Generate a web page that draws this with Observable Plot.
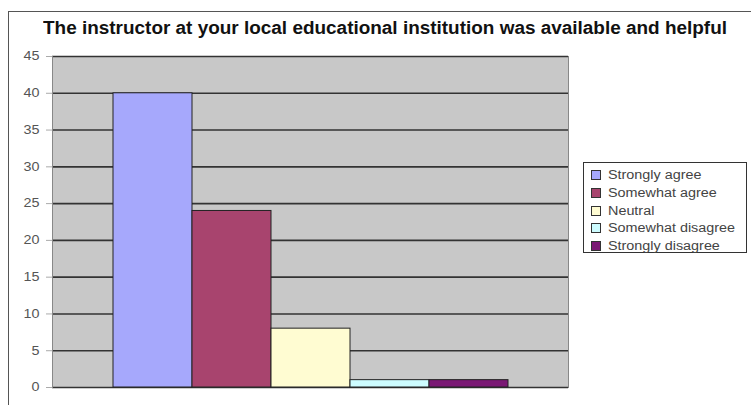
<!DOCTYPE html>
<html>
<head>
<meta charset="utf-8">
<script src="https://cdn.jsdelivr.net/npm/d3@7"></script>
<script src="https://cdn.jsdelivr.net/npm/@observablehq/plot@0.6"></script>
<style>
  html, body { margin: 0; padding: 0; background: #fff; }
  #wrap { position: relative; width: 751px; height: 405px; overflow: hidden; font-family: "Liberation Sans", Arial, sans-serif; }
  #border { position: absolute; left: 8px; top: 11px; width: 760px; height: 420px; border: 1px solid #555; box-sizing: border-box; }
  #title { position: absolute; left: 43px; top: 18px; white-space: nowrap; font-weight: bold; font-size: 17.5px; color: #111; transform-origin: 0 0; }
  #chart { position: absolute; left: 0; top: 0; }
  #legend { position: absolute; left: 583px; top: 162px; width: 164px; height: 91px; border: 1px solid #333; box-sizing: border-box; background: #fff; }
  .item { position: absolute; left: 7px; height: 18px; display: flex; align-items: center; }
  .sw { width: 10px; height: 10px; border: 1px solid #333; box-sizing: border-box; margin-right: 7px; flex: none; }
  .lab { font-size: 12.5px; color: #444; white-space: nowrap; display: inline-block; transform: scaleX(1.15); transform-origin: 0 50%; }
</style>
</head>
<body>
<div id="wrap">
  <div id="border"></div>
  <div id="title"></div>
  <div id="chart"></div>
  <div id="legend"></div>
</div>
<script>
const titleText = "The instructor at your local educational institution was available and helpful";
const categories = ["Strongly agree", "Somewhat agree", "Neutral", "Somewhat disagree", "Strongly disagree"];
const values = [40, 24, 8, 1, 1];
const colors = ["#a6a8fc", "#a8446e", "#fffcd2", "#cdfcff", "#7a1874"];
const yTicks = [0, 5, 10, 15, 20, 25, 30, 35, 40, 45];

const data = categories.map((c, i) => ({category: c, value: values[i]}));

const title = document.getElementById("title");
title.textContent = titleText;
const tw = title.getBoundingClientRect().width;
title.style.transform = `scaleX(${684 / tw})`;

const plot = Plot.plot({
  width: 751,
  height: 405,
  marginLeft: 52,
  marginRight: 183,
  marginTop: 56,
  marginBottom: 18,
  style: {fontFamily: "'Liberation Sans', Arial, sans-serif", fontSize: "12px", background: "transparent", overflow: "visible"},
  x: {domain: categories, paddingInner: 0, paddingOuter: 0.758, axis: null},
  y: {domain: [0, 45], ticks: yTicks, label: null},
  color: {domain: categories, range: colors},
  marks: [
    Plot.frame({fill: "#c8c8c8", stroke: null}),
    Plot.ruleY(yTicks, {stroke: "#333", strokeWidth: 1.6}),
    Plot.barY(data, {x: "category", y: "value", fill: "category", stroke: "#222", strokeWidth: 1, insetLeft: 0, insetRight: 0}),
    Plot.axisY(yTicks, {tickSize: 6, tickPadding: 7, stroke: "#aaa", color: "#555", fontSize: 12}),
    Plot.frame({stroke: "#888", strokeWidth: 1, anchor: "right"}),
    Plot.frame({stroke: "#888", strokeWidth: 1, anchor: "left"})
  ]
});
document.getElementById("chart").appendChild(plot);

// Widen tick labels to match the horizontally stretched reference type
plot.querySelectorAll('g[aria-label="y-axis tick label"] text').forEach(t => {
  const w = t.getComputedTextLength();
  t.setAttribute("textLength", (w * 1.2).toFixed(1));
  t.setAttribute("lengthAdjust", "spacingAndGlyphs");
});

const legend = document.getElementById("legend");
categories.forEach((c, i) => {
  const item = document.createElement("div");
  item.className = "item";
  item.style.top = (3 + i * 17.75) + "px";
  const sw = document.createElement("div");
  sw.className = "sw";
  sw.style.background = colors[i];
  const label = document.createElement("span");
  label.className = "lab";
  label.textContent = c;
  item.appendChild(sw);
  item.appendChild(label);
  legend.appendChild(item);
});
</script>
</body>
</html>
